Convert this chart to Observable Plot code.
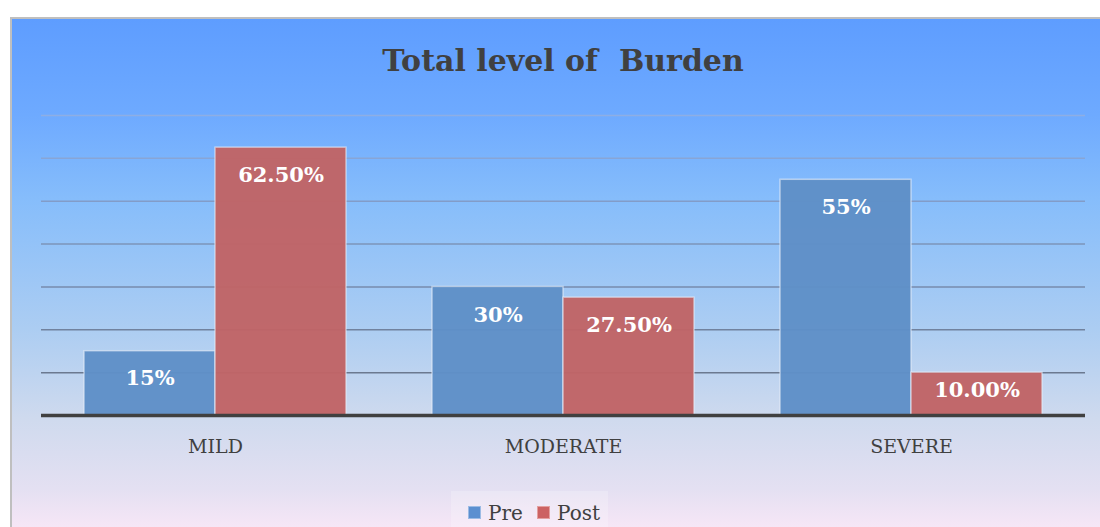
<!DOCTYPE html>
<html>
<head>
<meta charset="utf-8">
<script src="https://cdn.jsdelivr.net/npm/d3@7"></script>
<script src="https://cdn.jsdelivr.net/npm/@observablehq/plot@0.6"></script>
<style>
  html, body { margin: 0; padding: 0; background: #ffffff; }
  #wrap { position: relative; width: 1100px; height: 527px; overflow: hidden; background: #ffffff; font-family: "DejaVu Serif", serif; }
  #frame { position: absolute; left: 10px; top: 17px; width: 1100px; height: 520px;
    border-left: 2px solid #bfbfbf; border-top: 2px solid #bfbfbf;
    background: linear-gradient(to bottom, #5e9dff 0px, #6eaaff 96px, #86bdfb 180px, #accdf2 310px, #cfdaee 400px, #e4e0f2 470px, #f6e6f6 508px); }
  #title { position: absolute; left: 0; width: 1126px; top: 43px; text-align: center; font-weight: bold; font-size: 30px; color: #404040; white-space: pre; }
  #chart { position: absolute; left: 0; top: 0; }
  #legend { position: absolute; left: 451px; top: 491px; width: 157px; height: 36px; background: rgba(255,255,255,0.22); }
  .item { position: absolute; top: 10px; font-size: 20px; color: #404040; line-height: 24px; }
  .sw { display: inline-block; width: 11px; height: 11px; margin-right: 7px; vertical-align: 1px; }
</style>
</head>
<body>
<div id="wrap">
  <div id="frame"></div>
  <div id="title">Total level of  Burden</div>
  <div id="chart"></div>
  <div id="legend">
    <div class="item" style="left:17px"><span class="sw" style="background:#5b8fd0;border:1px solid #9cbbe4"></span>Pre</div>
    <div class="item" style="left:86px"><span class="sw" style="background:#cc6263;border:1px solid #e3a0a0"></span>Post</div>
  </div>
</div>
<script>
const categories = ["MILD", "MODERATE", "SEVERE"];
const series = ["Pre", "Post"];
const preValues = [15, 30, 55];
const postValues = [62.5, 27.5, 10];
const preLabels = ["15%", "30%", "55%"];
const postLabels = ["62.50%", "27.50%", "10.00%"];
const gridTicks = [10, 20, 30, 40, 50, 60, 70];

const colors = { Pre: "#5f8fc7", Post: "#c06466" };
const gridColor = d3.interpolateRgb("#6b7990", "#8eaee4");

const data = [];
categories.forEach((c, i) => {
  data.push({ category: c, series: "Pre", value: preValues[i], label: preLabels[i] });
  data.push({ category: c, series: "Post", value: postValues[i], label: postLabels[i] });
});
// label anchor: inside end of the bar, kept within short bars
data.forEach(d => { d.labelY = d.value - Math.min(6.5, d.value * 0.42); });

const chart = Plot.plot({
  width: 1100,
  height: 480,
  marginLeft: 40,
  marginRight: 15,
  marginTop: 115,
  marginBottom: 65,
  style: { background: "transparent", fontFamily: "DejaVu Serif, serif", overflow: "visible" },
  fx: { domain: categories, padding: 0, label: null, axis: null },
  x: { domain: series, paddingInner: 0, paddingOuter: 0.324, axis: null },
  y: { domain: [0, 70], axis: null },
  marks: [
    Plot.ruleY(gridTicks, { stroke: d => gridColor((d - 10) / 60), strokeWidth: 1.5 }),
    Plot.barY(data, { fx: "category", x: "series", y: "value", fill: d => colors[d.series], fillOpacity: 0.97, stroke: "#e8eef8", strokeOpacity: 0.6, strokeWidth: 1.5, inset: 0 }),
    Plot.ruleY([0], { stroke: "#404040", strokeWidth: 3.5 }),
    Plot.text(data, { fx: "category", x: "series", y: "labelY", text: "label", fill: "white", fontWeight: "bold", fontSize: 21 }),
    Plot.axisFx({ anchor: "bottom", tickSize: 0, tickPadding: 24, fontSize: 19, label: null, fill: "#404040" })
  ]
});
document.getElementById("chart").appendChild(chart);
</script>
</body>
</html>
